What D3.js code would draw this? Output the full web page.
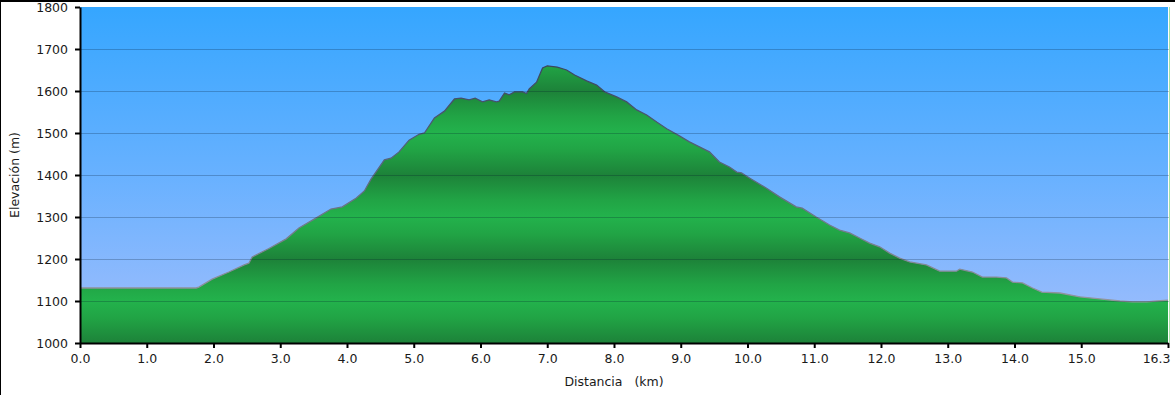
<!DOCTYPE html>
<html>
<head>
<meta charset="utf-8">
<script src="https://cdn.jsdelivr.net/npm/d3@7"></script>
<style>
  body { margin: 0; background: #fff; }
  svg { display: block; }
  .axis text { font-family: "DejaVu Sans", Verdana, sans-serif; font-size: 12.5px; fill: #1a1a1a; }
  .axis path, .axis line { stroke: #000; stroke-width: 2px; }
  .title { font-family: "DejaVu Sans", Verdana, sans-serif; font-size: 12.5px; fill: #1a1a1a; white-space: pre; }
</style>
</head>
<body>
<div id="chart"></div>
<script>

// profile data: distance (km) and elevation (m)
var distance = [0.00, 1.74, 1.78, 1.98, 2.23, 2.46, 2.53, 2.58, 2.83, 3.09, 3.28, 3.54, 3.76, 3.93,
  4.14, 4.26, 4.36, 4.56, 4.66, 4.78, 4.93, 5.08, 5.16, 5.31, 5.46, 5.61, 5.71, 5.83, 5.92, 6.03,
  6.13, 6.24, 6.28, 6.36, 6.43, 6.51, 6.63, 6.69, 6.73, 6.84, 6.93, 7.00, 7.15, 7.29, 7.41, 7.59,
  7.74, 7.86, 8.04, 8.19, 8.34, 8.49, 8.64, 8.79, 8.98, 9.13, 9.28, 9.43, 9.58, 9.73, 9.84, 9.91,
  10.03, 10.28, 10.48, 10.73, 10.82, 11.03, 11.23, 11.38, 11.53, 11.68, 11.83, 11.98, 12.13, 12.28,
  12.43, 12.68, 12.88, 13.13, 13.18, 13.37, 13.52, 13.73, 13.88, 13.97, 14.12, 14.27, 14.41, 14.68,
  14.98, 15.28, 15.58, 15.77, 15.98, 16.13, 16.30];

var elevation = [1131, 1131, 1133, 1152, 1169, 1186, 1190, 1205, 1225, 1248, 1274, 1298, 1319, 1324,
  1345, 1362, 1390, 1436, 1440, 1455, 1483, 1497, 1500, 1536, 1552, 1581, 1583, 1579, 1583, 1574,
  1579, 1574, 1576, 1595, 1591, 1598, 1598, 1594, 1605, 1621, 1655, 1660, 1657, 1650, 1638, 1624,
  1614, 1598, 1586, 1574, 1555, 1543, 1526, 1510, 1493, 1479, 1467, 1455, 1431, 1419, 1407, 1405,
  1393, 1369, 1348, 1324, 1321, 1300, 1281, 1269, 1262, 1250, 1238, 1229, 1214, 1202,
  1193, 1186, 1171, 1171, 1176, 1169, 1157, 1157, 1155, 1145, 1143, 1131, 1121, 1119,
  1110, 1105, 1100, 1098, 1098, 1100, 1102];

// axis ticks
var xTicks = [0, 1, 2, 3, 4, 5, 6, 7, 8, 9, 10, 11, 12, 13, 14, 15, 16.3];
var yTicks = [1000, 1100, 1200, 1300, 1400, 1500, 1600, 1700, 1800];

var data = distance.map(function(d, i) { return {km: d, ele: elevation[i]}; });

var width = 1175, height = 395;
var x0 = 80, x1 = 1168, y0 = 343, y1 = 7;

var svg = d3.select("#chart")
  .append("svg")
  .attr("width", width)
  .attr("height", height);

// scales
var xScale = d3.scaleLinear().domain([0, 16.3]).range([x0, x1]);
var yScale = d3.scaleLinear().domain([1000, 1800]).range([y0, y1]);

var defs = svg.append("defs");

// sky gradient
var sky = defs.append("linearGradient")
  .attr("id", "sky")
  .attr("gradientUnits", "userSpaceOnUse")
  .attr("x1", 0).attr("x2", 0)
  .attr("y1", y1).attr("y2", y0);
sky.append("stop").attr("offset", "0%").attr("stop-color", "#35a6ff");
sky.append("stop").attr("offset", "50%").attr("stop-color", "#68b1ff");
sky.append("stop").attr("offset", "100%").attr("stop-color", "#a2befc");

// banded green fill
var green = defs.append("linearGradient")
  .attr("id", "green")
  .attr("gradientUnits", "userSpaceOnUse")
  .attr("spreadMethod", "reflect")
  .attr("x1", 0).attr("x2", 0)
  .attr("y1", yScale(1300)).attr("y2", yScale(1200));
green.append("stop").attr("offset", "0%").attr("stop-color", "#23b24c");
green.append("stop").attr("offset", "40%").attr("stop-color", "#21a445");
green.append("stop").attr("offset", "100%").attr("stop-color", "#1d8239");

// outline colour fades with height
var edge = defs.append("linearGradient")
  .attr("id", "edge")
  .attr("gradientUnits", "userSpaceOnUse")
  .attr("x1", 0).attr("x2", 0)
  .attr("y1", y1).attr("y2", y0);
edge.append("stop").attr("offset", "0%").attr("stop-color", "#2a3550");
edge.append("stop").attr("offset", "45%").attr("stop-color", "#55627a");
edge.append("stop").attr("offset", "100%").attr("stop-color", "#a4a4a8");

// background
svg.append("rect")
  .attr("x", x0).attr("y", y1)
  .attr("width", x1 - x0).attr("height", y0 - y1)
  .attr("fill", "url(#sky)");

// elevation area
var area = d3.area()
  .x(function(d) { return xScale(d.km); })
  .y0(y0)
  .y1(function(d) { return yScale(d.ele); });

svg.append("path")
  .datum(data)
  .attr("d", area)
  .attr("fill", "url(#green)");

var line = d3.line()
  .x(function(d) { return xScale(d.km); })
  .y(function(d) { return yScale(d.ele); });

svg.append("path")
  .datum(data)
  .attr("d", line)
  .attr("fill", "none")
  .attr("stroke", "url(#edge)")
  .attr("stroke-width", 1.3);

// gridlines on top
svg.selectAll(".grid")
  .data(yTicks.slice(1, -1))
  .enter()
  .append("line")
  .attr("class", "grid")
  .attr("x1", x0).attr("x2", x1 + 1)
  .attr("y1", function(d) { return yScale(d) + 0.5; })
  .attr("y2", function(d) { return yScale(d) + 0.5; })
  .attr("stroke", "rgba(0,20,40,0.24)")
  .attr("stroke-width", 1);

// right edge of plot
svg.append("line")
  .attr("x1", x1 + 1.5).attr("x2", x1 + 1.5)
  .attr("y1", y1).attr("y2", y0)
  .attr("stroke", "#a6e3a6")
  .attr("stroke-width", 1);

// axes
var xAxis = d3.axisBottom(xScale)
  .tickValues(xTicks)
  .tickFormat(d3.format(".1f"))
  .tickSize(5)
  .tickSizeOuter(0)
  .tickPadding(6);

var yAxis = d3.axisLeft(yScale)
  .tickValues(yTicks)
  .tickFormat(d3.format("d"))
  .tickSize(5)
  .tickSizeOuter(0)
  .tickPadding(7);

var gx = svg.append("g")
  .attr("class", "axis")
  .attr("transform", "translate(0," + y0 + ")")
  .call(xAxis);

// last label sits left of its tick
gx.selectAll(".tick text")
  .filter(function(d) { return d === 16.3; })
  .attr("text-anchor", "end")
  .attr("x", 2);

svg.append("g")
  .attr("class", "axis")
  .attr("transform", "translate(" + x0 + ",0)")
  .call(yAxis);

// axis titles
svg.append("text")
  .attr("class", "title")
  .attr("text-anchor", "middle")
  .attr("x", 614)
  .attr("y", 386)
  .text("Distancia   (km)");

svg.append("text")
  .attr("class", "title")
  .attr("text-anchor", "middle")
  .attr("transform", "translate(19,175) rotate(-90)")
  .text("Elevación (m)");

// page border
svg.append("line")
  .attr("x1", 0).attr("x2", width)
  .attr("y1", 1).attr("y2", 1)
  .attr("stroke", "#000").attr("stroke-width", 2);
svg.append("line")
  .attr("x1", 0.5).attr("x2", 0.5)
  .attr("y1", 0).attr("y2", height)
  .attr("stroke", "#000").attr("stroke-width", 1);

</script>
</body>
</html>
